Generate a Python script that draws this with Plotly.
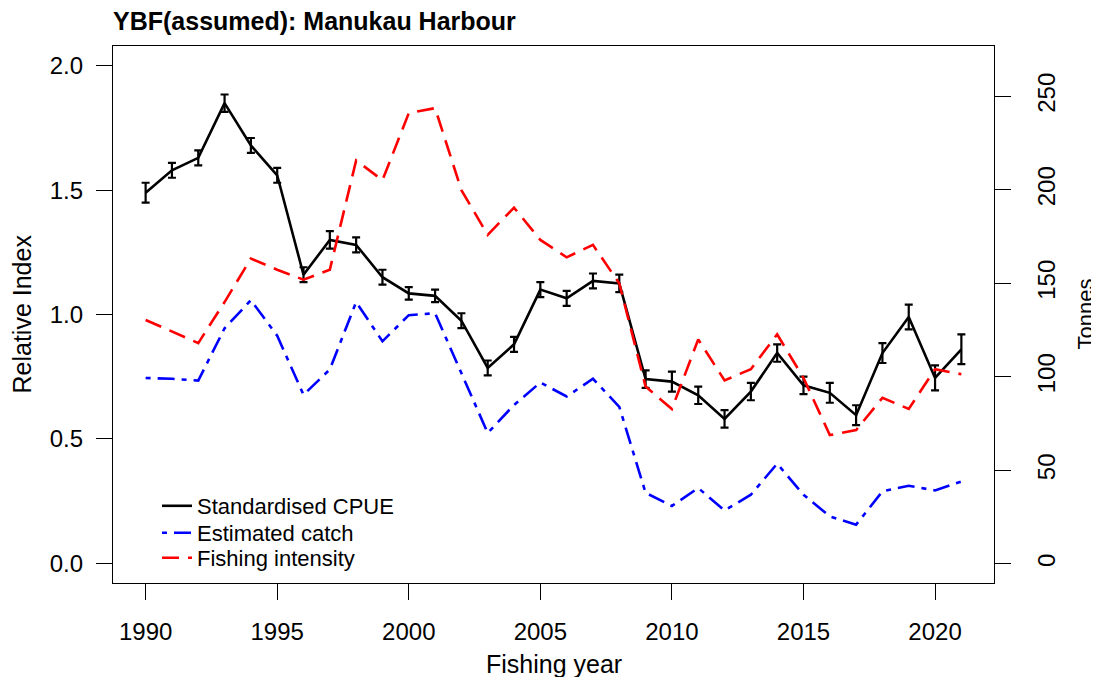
import plotly.graph_objects as go

years = list(range(1990, 2022))
cpue = [1.49, 1.58, 1.63, 1.85, 1.68, 1.56, 1.16, 1.30, 1.28, 1.15, 1.085, 1.075,
        0.975, 0.785, 0.88, 1.10, 1.065, 1.135, 1.125, 0.74, 0.73, 0.675, 0.58, 0.69,
        0.845, 0.715, 0.685, 0.595, 0.845, 0.99, 0.745, 0.86]
cpue_err = [0.04, 0.03, 0.03, 0.035, 0.03, 0.03, 0.03, 0.035, 0.03, 0.03, 0.025, 0.025,
            0.03, 0.03, 0.03, 0.03, 0.03, 0.03, 0.035, 0.035, 0.04, 0.035, 0.035, 0.035,
            0.035, 0.035, 0.04, 0.04, 0.04, 0.05, 0.05, 0.06]
catch_tonnes = [99.4, 99, 98, 126, 141, 122, 90.4, 104, 140, 119, 133, 134, 102, 70, 85,
                97, 89.5, 99, 84, 38, 31, 40.6, 28.6, 37, 53.6, 37, 25.4, 21, 38.8, 41.8,
                39.3, 44.1]
intensity = [0.978, 0.93, 0.885, 1.05, 1.225, 1.18, 1.14, 1.18, 1.62, 1.54, 1.81, 1.83,
             1.50, 1.32, 1.43, 1.30, 1.23, 1.28, 1.125, 0.71, 0.62, 0.90, 0.735, 0.78,
             0.92, 0.745, 0.515, 0.535, 0.665, 0.62, 0.78, 0.76]

x_ticks = [1990, 1995, 2000, 2005, 2010, 2015, 2020]
y_ticks = [0.0, 0.5, 1.0, 1.5, 2.0]
y_ticktext = ["0.0", "0.5", "1.0", "1.5", "2.0"]
y2_ticks = [0, 50, 100, 150, 200, 250]

FONT = "Liberation Sans, Arial, Helvetica, sans-serif"

# The page body has an 8px margin, so the figure starts at screen (8, 8).
OFF = 8
W, H = 1099 - OFF, 677 - OFF
BOX_L, BOX_R, BOX_T, BOX_B = 113, 994, 46, 583          # screen pixels
L, T = BOX_L - OFF, BOX_T - OFF
R = W - (BOX_R - OFF)
B = H - (BOX_B - OFF)
PW, PH = BOX_R - BOX_L, BOX_B - BOX_T


def px(sx):
    return (sx - BOX_L) / PW


def py(sy):
    return (BOX_B - sy) / PH


fig = go.Figure()
fig.add_trace(go.Scatter(
    x=years, y=cpue, mode="lines", name="Standardised CPUE", legend="legend",
    line=dict(color="black", width=2.6),
    error_y=dict(type="data", array=cpue_err, visible=True, color="black",
                 thickness=2.2, width=4),
))
fig.add_trace(go.Scatter(
    x=years, y=catch_tonnes, mode="lines", name="Estimated catch", yaxis="y2",
    legend="legend2",
    line=dict(color="#0000FF", width=2.6, dash="5px,7px,17px,7px"),
))
fig.add_trace(go.Scatter(
    x=years, y=intensity, mode="lines", name="Fishing intensity", legend="legend3",
    line=dict(color="#FF0000", width=2.6, dash="17px,9px"),
))

axis_common = dict(
    showgrid=False, zeroline=False, showline=True, linecolor="black", linewidth=1.3,
    ticks="outside", ticklen=16, tickwidth=1.3, tickcolor="black",
    tickfont=dict(family=FONT, size=24, color="black"),
)


def leg(sy):
    return dict(x=px(157), xanchor="left", y=py(sy), yanchor="middle",
                bgcolor="rgba(0,0,0,0)", borderwidth=0,
                font=dict(family=FONT, size=22, color="black"),
                itemwidth=30)


fig.update_layout(
    width=W, height=H,
    margin=dict(l=L, r=R, t=T, b=B, autoexpand=False),
    paper_bgcolor="white", plot_bgcolor="white",
    font=dict(family=FONT, size=22, color="black"),
    title=dict(text="<b>YBF(assumed): Manukau Harbour</b>",
               font=dict(family=FONT, size=25, color="black"),
               x=L / W, xanchor="left", xref="container",
               y=1 - (21 - OFF) / H, yanchor="middle", yref="container"),
    xaxis=dict(range=[1988.76, 2022.24], tickvals=x_ticks, mirror=True,
               ticklabelstandoff=11, **axis_common),
    yaxis=dict(range=[-0.08, 2.08], tickvals=y_ticks, ticktext=y_ticktext, mirror=True,
               ticklabelstandoff=8, **axis_common),
    yaxis2=dict(range=[-10.2, 276.9], tickvals=y2_ticks, overlaying="y", side="right",
                tickangle=-90, ticklabelstandoff=15, **axis_common),
    showlegend=True,
    legend=leg(506),
    legend2=leg(533),
    legend3=leg(558),
    annotations=[
        dict(text="Relative Index", xref="paper", yref="paper",
             x=px(21), y=0.5, xanchor="center", yanchor="middle",
             textangle=-90, showarrow=False, font=dict(family=FONT, size=25)),
        dict(text="Tonnes", xref="paper", yref="paper",
             x=px(1085), y=0.5, xanchor="center",
             yanchor="middle", textangle=-90, showarrow=False,
             font=dict(family=FONT, size=22)),
        dict(text="Fishing year", xref="paper", yref="paper",
             x=0.5, y=py(664), xanchor="center", yanchor="middle",
             showarrow=False, font=dict(family=FONT, size=25)),
    ],
)

fig.write_html("out.html")
